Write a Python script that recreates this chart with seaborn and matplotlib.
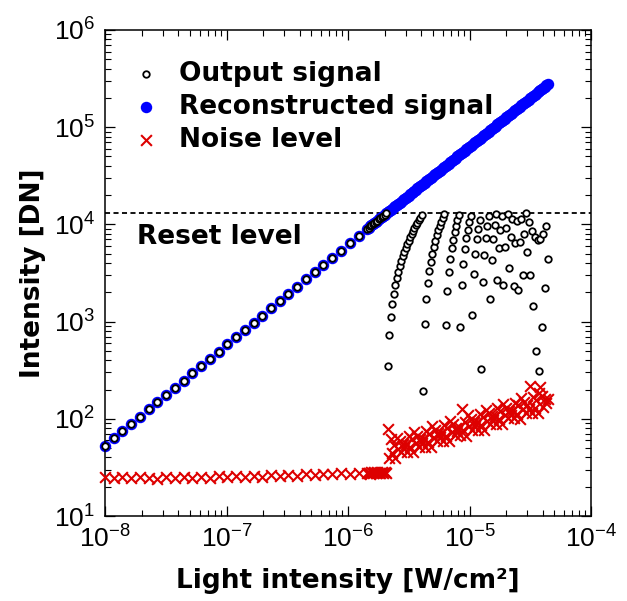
import numpy as np
import pandas as pd
import matplotlib
matplotlib.use("Agg")
import matplotlib.pyplot as plt
import seaborn as sns

# ---------------- data ----------------
# light intensity in uW/cm^2
light_uW = [
    0.0100, 0.0118, 0.0139, 0.0164, 0.0194, 0.0229, 0.0270, 0.0319, 0.0376, 0.0444,
    0.0523, 0.0618, 0.0729, 0.0860, 0.101, 0.120, 0.141, 0.167, 0.197, 0.232,
    0.274, 0.323, 0.381, 0.450, 0.531, 0.627, 0.739, 0.873, 1.03, 1.22, 1.43,
    1.475, 1.517, 1.560, 1.605, 1.650, 1.697, 1.746, 1.795, 1.847, 1.899,
    1.953, 2.009, 2.066, 2.125, 2.186, 2.248, 2.312, 2.378, 2.446, 2.515,
    2.587, 2.661, 2.737, 2.815, 2.895, 2.977, 3.062, 3.149, 3.239, 3.331,
    3.426, 3.524, 3.624, 3.728, 3.834, 3.943, 4.056, 4.171, 4.290, 4.412,
    4.538, 4.667, 4.800, 4.937, 5.078, 5.222, 5.371, 5.524, 5.682, 5.844,
    6.010, 6.182, 6.358, 6.539, 6.725, 6.917, 7.114, 7.317, 7.525, 7.740,
    7.960, 8.187, 8.420, 8.660, 8.907, 9.161, 9.422, 9.691, 9.967, 10.245,
    10.537, 10.837, 11.146, 11.464, 11.790, 12.126, 12.472, 12.827, 13.193, 13.569,
    13.955, 14.353, 14.762, 15.183, 15.615, 16.060, 16.518, 16.989, 17.473, 17.971,
    18.483, 19.010, 19.552, 20.109, 20.682, 21.271, 21.878, 22.501, 23.142, 23.802,
    24.480, 25.178, 25.896, 26.634, 27.393, 28.173, 28.976, 29.802, 30.651, 31.525,
    32.42, 33.35, 34.30, 35.27, 36.28, 37.31, 38.38, 39.47, 40.60, 41.75,
    42.94, 44.17,
]

reconstructed_signal = [
    53.0, 62.9, 74.6, 88.5, 105, 125, 148, 176, 208, 247,
    293, 348, 413, 490, 582, 690, 819, 972, 1153, 1368,
    1623, 1926, 2286, 2713, 3219, 3820, 4533, 5379, 6383, 7574, 8988,
    9263, 9527, 9797, 10077, 10364, 10659, 10963, 11275, 11597, 11927,
    12267, 12617, 12976, 13346, 13726, 14117, 14520, 14933, 15359, 15796,
    16247, 16710, 17186, 17676, 18179, 18697, 19230, 19778, 20342, 20921,
    21518, 22131, 22761, 23410, 24077, 24764, 25469, 26195, 26941, 27709,
    28499, 29311, 30146, 31005, 31889, 32798, 33732, 34693, 35682, 36699,
    37745, 38821, 39927, 41066, 42236, 43438, 44677, 45950, 47259, 48606,
    49991, 51416, 52881, 54388, 55938, 57533, 59172, 60858, 62592, 64341,
    66174, 68059, 70000, 71997, 74044, 76154, 78326, 80556, 82854, 85216,
    87640, 90139, 92708, 95352, 98065, 100860, 103736, 106694, 109734, 112861,
    116077, 119386, 122790, 126289, 129887, 133585, 137398, 141310, 145336, 149481,
    153739, 158123, 162631, 167267, 172033, 176931, 181975, 187162, 192494, 197983,
    203604, 209444, 215410, 221502, 227845, 234314, 241034, 247879, 254976, 262198,
    269671, 277396,
]

output_signal = [
    53.0, 62.9, 74.6, 88.5, 105, 125, 148, 176, 208, 247,
    293, 348, 413, 490, 582, 690, 819, 972, 1153, 1368,
    1623, 1926, 2286, 2713, 3219, 3820, 4533, 5379, 6383, 7574, 8988,
    9263, 9527, 9797, 10077, 10364, 10659, 10963, 11275, 11597, 11927,
    12267, 12617, 12976, 346, 726, 1117, 1520, 1933, 2359, 2796,
    3247, 3710, 4186, 4676, 5179, 5697, 6230, 6778, 7342, 7921,
    8518, 9131, 9761, 10410, 11077, 11764, 12469, 195, 941, 1709,
    2499, 3311, 4146, 5005, 5889, 6798, 7732, 8693, 9682, 10699,
    11745, 12821, 927, 2066, 3236, 4438, 5677, 6950, 8259, 9606,
    10991, 12416, 881, 2388, 3938, 5533, 7172, 8858, 10592, 12341,
    1174, 3059, 5000, 6997, 9044, 11154, 326, 2556, 4854, 7216,
    9640, 12139, 1708, 4352, 7065, 9860, 12736, 2694, 5734, 8861,
    12077, 2386, 5790, 9289, 12887, 3585, 7398, 11310, 2336, 6481,
    10739, 2123, 6631, 11267, 3033, 7931, 12975, 5162, 10494, 2983,
    8604, 1444, 7410, 502, 6845, 314, 7034, 879, 7976, 2198,
    9671, 4396,
]

noise_level = [
    25.0, 24.6, 25.3, 24.5, 25.1, 24.7, 24.3, 25.4, 24.8, 25.2,
    24.6, 25.3, 24.9, 25.6, 25.1, 25.8, 25.3, 26.0, 25.5, 26.3,
    25.8, 26.6, 26.1, 26.9, 26.5, 27.2, 26.8, 27.6, 27.2, 27.9, 27.5,
    27.8, 27.2, 28.1, 27.5, 28.3, 27.6, 28.4, 27.9, 27.4, 28.2,
    27.7, 28.5, 28.0, 78, 39.7, 62, 44.6, 54.0, 39.5, 64.0,
    49.1, 58.6, 45.5, 54.6, 49.8, 54.7, 45.3, 66.0, 50.9, 61.7,
    45.1, 73.0, 56.1, 66.9, 51.9, 62.3, 56.8, 62.4, 51.7, 75.3,
    58.1, 70.5, 51.5, 83.4, 64.1, 76.4, 59.3, 71.2, 64.9, 71.3,
    59.1, 86.0, 66.4, 80.6, 58.8, 95.4, 73.2, 87.4, 67.8, 81.3,
    74.2, 81.5, 67.6, 125, 75.9, 92.0, 67.2, 108.9, 83.7, 99.8,
    77.5, 92.9, 84.7, 93.1, 77.2, 112.3, 86.7, 105.2, 76.8, 124.5,
    95.7, 114.0, 88.5, 106.2, 96.9, 106.4, 88.2, 128.4, 99.0, 120.2,
    87.8, 142.3, 109.3, 130.3, 101.1, 121.4, 110.7, 121.7, 100.9, 146.8,
    113.2, 137.4, 100.3, 162.5, 124.9, 149.0, 115.7, 138.7, 126.5, 215,
    115.3, 167.8, 129.3, 156.9, 114.7, 185.8, 210, 170.2, 132.2, 158.5,
    144.5, 158.9,
]

reset_level = 13200
legend_labels = ["Output signal", "Reconstructed signal", "Noise level"]
x_label = "Light intensity [W/cm²]"
y_label = "Intensity [DN]"
reset_text = "Reset level"

# ---------------- style ----------------
sns.set_style("ticks")
plt.rcParams["font.family"] = ["Liberation Sans", "DejaVu Sans"]
plt.rcParams["mathtext.default"] = "regular"
plt.rcParams["axes.unicode_minus"] = False
for key in ["text.color", "axes.labelcolor", "xtick.color", "ytick.color",
            "axes.edgecolor"]:
    plt.rcParams[key] = "black"

df = pd.DataFrame({
    "light": np.array(light_uW) * 1e-6,
    "output": output_signal,
    "recon": reconstructed_signal,
    "noise": noise_level,
})

fig, ax = plt.subplots(figsize=(6.27, 6.01), dpi=100)
fig.subplots_adjust(left=0.1675, right=0.9426, top=0.9501, bottom=0.1414)
ax.set_xscale("log")
ax.set_yscale("log")

sns.scatterplot(data=df, x="light", y="recon", ax=ax, color="#0000ff",
                s=68, linewidth=0, label=legend_labels[1], zorder=2, clip_on=False)
sns.scatterplot(data=df, x="light", y="output", ax=ax, marker="o", s=22,
                facecolor="white", edgecolor="black", linewidth=1.3,
                label=legend_labels[0], zorder=3, clip_on=False)
sns.scatterplot(data=df, x="light", y="noise", ax=ax, marker="x", s=60,
                color="#dd0000", linewidth=1.5, label=legend_labels[2],
                zorder=3, clip_on=False)

ax.axhline(reset_level, color="black", linewidth=1.3,
           linestyle=(0, (2.8, 1.9)), zorder=1)

ax.set_xlim(1e-8, 1e-4)
ax.set_ylim(1e1, 1e6)

bold = dict(family="DejaVu Sans", weight="bold", size=19, color="black")
ax.text(1.83e-8, 7400, reset_text, fontdict=bold, ha="left", va="center")
ax.set_xlabel(x_label, fontdict=bold, labelpad=11)
ax.set_ylabel(y_label, fontdict=bold, labelpad=6)

for s in ax.spines.values():
    s.set_linewidth(1.1)
    s.set_color("black")
ax.tick_params(which="both", direction="in", top=True, right=True,
               colors="black", labelsize=19)
ax.tick_params(which="major", length=7, width=0.9)
ax.tick_params(which="minor", length=4, width=0.8)
ax.tick_params(axis="x", pad=7)
ax.tick_params(axis="y", pad=7)

handles, labels = ax.get_legend_handles_labels()
order = [labels.index(l) for l in legend_labels]
ax.legend([handles[i] for i in order], legend_labels, loc="upper left",
          bbox_to_anchor=(0.0576, 0.937), frameon=False, borderpad=0,
          borderaxespad=0, handlelength=1.0, handletextpad=0.75,
          labelspacing=0.27, scatterpoints=1,
          prop=dict(family="DejaVu Sans", weight="bold", size=19))

fig.savefig("out.png", dpi=100)
